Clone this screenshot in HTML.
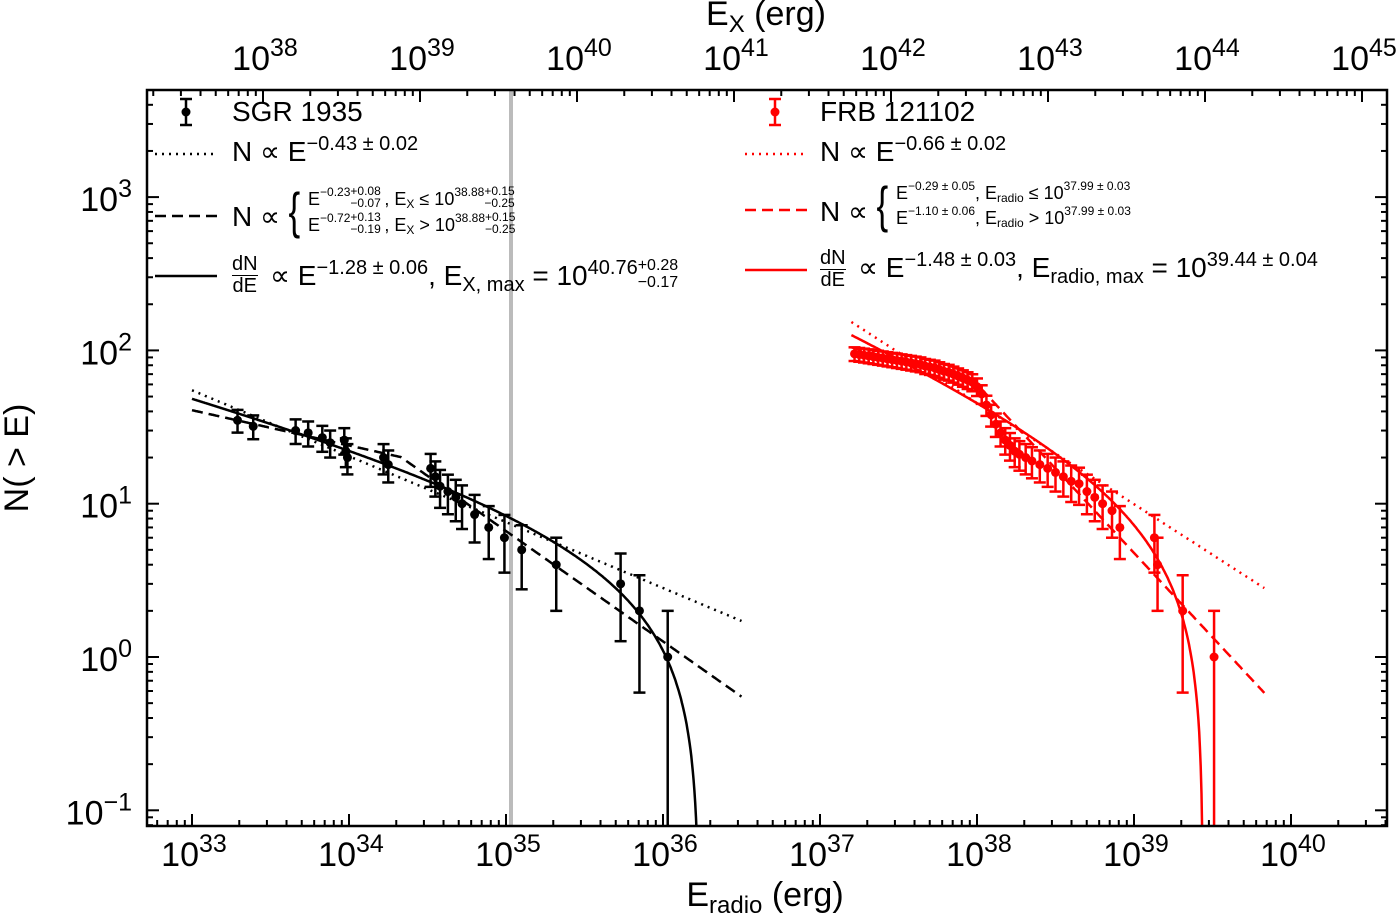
<!DOCTYPE html>
<html><head><meta charset="utf-8"><style>
body{margin:0;background:#fff;width:1400px;height:920px;overflow:hidden;font-family:"Liberation Sans",sans-serif}
#wrap{position:relative;width:1400px;height:920px;overflow:hidden}
svg{position:absolute;left:0;top:0;overflow:hidden}
.lg{position:absolute;font-size:28px;line-height:1;white-space:nowrap}
.lg sup{font-size:20px;position:relative;top:-4px;vertical-align:top;line-height:1}
.lg sub{font-size:20px;position:relative;top:6px;vertical-align:baseline;line-height:1}
.sm{font-size:18px}
.sm sup,.sm sub{font-size:12px}
.sm sup{top:-4px}
.sm sub{top:3px}
.ss{display:inline-block;position:relative;width:34px;height:18px;vertical-align:top;font-size:12px}
.ss span{position:absolute;left:0;line-height:1}
.ss .u{top:-5px}.ss .d{top:7px}
.big .ss{width:46px;font-size:16px}
.big .ss .u{top:-4px}.big .ss .d{top:13px}
.frac{position:absolute;font-size:20px;line-height:1;text-align:center}
.frac .n{border-bottom:1.5px solid currentColor;padding-bottom:1px}
.brace{position:absolute;font-size:50px;line-height:1;font-weight:100;transform:scaleX(0.7)}
.red{color:#f00}
</style></head><body><div id="wrap">
<svg id="svg" width="1400" height="920"></svg>

<div class="lg" style="left:232px;top:98px">SGR 1935</div>
<div class="lg" style="left:232px;top:138px">N ∝ E<sup>−0.43 ± 0.02</sup></div>
<div class="lg" style="left:232px;top:203px">N ∝</div>
<div class="brace" style="left:286px;top:186px">{</div>
<div class="lg sm" style="left:308px;top:190px">E<sup>−0.23</sup><span class="ss"><span class="u">+0.08</span><span class="d">−0.07</span></span>, E<sub>X</sub> ≤ 10<sup>38.88</sup><span class="ss"><span class="u">+0.15</span><span class="d">−0.25</span></span></div>
<div class="lg sm" style="left:308px;top:216px">E<sup>−0.72</sup><span class="ss"><span class="u">+0.13</span><span class="d">−0.19</span></span>, E<sub>X</sub> &gt; 10<sup>38.88</sup><span class="ss"><span class="u">+0.15</span><span class="d">−0.25</span></span></div>
<div class="frac" style="left:232px;top:254px"><div class="n">dN</div><div>dE</div></div>
<div class="lg big" style="left:270px;top:262px">∝ E<sup>−1.28 ± 0.06</sup>, E<sub>X, max</sub> = 10<sup>40.76</sup><span class="ss"><span class="u">+0.28</span><span class="d">−0.17</span></span></div>

<div class="lg" style="left:820px;top:98px">FRB 121102</div>
<div class="lg" style="left:820px;top:138px">N ∝ E<sup>−0.66 ± 0.02</sup></div>
<div class="lg" style="left:820px;top:198px">N ∝</div>
<div class="brace" style="left:874px;top:180px">{</div>
<div class="lg sm" style="left:896px;top:184px">E<sup>−0.29 ± 0.05</sup>, E<sub>radio</sub> ≤ 10<sup>37.99 ± 0.03</sup></div>
<div class="lg sm" style="left:896px;top:209px">E<sup>−1.10 ± 0.06</sup>, E<sub>radio</sub> &gt; 10<sup>37.99 ± 0.03</sup></div>
<div class="frac" style="left:820px;top:248px"><div class="n">dN</div><div>dE</div></div>
<div class="lg" style="left:858px;top:254px">∝ E<sup>−1.48 ± 0.03</sup>, E<sub>radio, max</sub> = 10<sup>39.44 ± 0.04</sup></div>

<script>
const sgrLogE=[33.29,33.39,33.66,33.74,33.83,33.88,33.97,33.98,33.99,34.22,34.25,34.52,34.55,34.58,34.63,34.68,34.72,34.80,34.89,34.99,35.10,35.32,35.73,35.85,36.03];
const sgrN=[35,32,30,29,27,25,26,22,20,20,18,17,15,13,12,11,10,8.5,7,6,5,4,3,2,1];
const frbLogE=[37.22,37.25,37.28,37.31,37.34,37.37,37.40,37.43,37.46,37.49,37.52,37.55,37.58,37.61,37.64,37.67,37.70,37.73,37.76,37.79,37.82,37.85,37.88,37.91,37.94,37.97,38.00,38.03,38.06,38.09,38.12,38.15,38.18,38.21,38.24,38.27,38.31,38.35,38.40,38.45,38.50,38.55,38.60,38.65,38.70,38.75,38.80,38.86,38.91,39.13,39.15,39.31,39.51];
const frbN=[95,94,93,92,91,90,89,88,87,86,85,84,83,82,81,79,78,77,75,73,72,70,68,66,64,62,58,52,44,38,33,29,26,24,22,21,20,19,18,17,16,15,14,13.5,12,11,10,9,7,6,4,2,1];
const xTicks=[33,34,35,36,37,38,39,40];
const topTicks=[38,39,40,41,42,43,44,45];
const yTicks=[-1,0,1,2,3];

const L=147,R=1387,T=90,B=826;
const X=l=>192+(l-33)*157;
const XT=l=>263+(l-38)*157;
const Y=n=>657-Math.log10(n)*153.3;
const YL=l=>657-l*153.3;
const svg=document.getElementById('svg');
const NS='http://www.w3.org/2000/svg';
function mk(tag,at,name,parent){const e=document.createElementNS(NS,tag);for(const k in at)e.setAttribute(k,at[k]);


(parent||svg).appendChild(e);return e;}
const clip=mk('clipPath',{id:'c'},'clip');mk('rect',{x:L,y:T,width:R-L,height:B-T},'clip-rect',clip);
const g=mk('g',{'clip-path':'url(#c)'},'plot-area');
mk('line',{x1:511,y1:T,x2:511,y2:B,stroke:'#bbb','stroke-width':4},'gray-vertical-line',g);
function path(fn,l0,l1,attr,name){let d='';for(let l=l0;l<=l1+1e-9;l+=0.005){const v=fn(l);if(!(v>0))break;d+=(d?'L':'M')+X(l).toFixed(1)+','+Y(v).toFixed(1);}
mk('path',Object.assign({d:d,fill:'none','stroke-width':2.5},attr),name,g);}
path(l=>Math.pow(10,1.74-0.43*(l-33)),33,36.5,{stroke:'#000','stroke-dasharray':'2,5'},'sgr-powerlaw-fit');
path(l=>Math.pow(10,l<34.33?1.61-0.23*(l-33):1.304-0.72*(l-34.33)),33,36.5,{stroke:'#000','stroke-dasharray':'11,6'},'sgr-broken-fit');
path(l=>6.88*(Math.pow(10,-0.28*(l-36.23))-1)+1e-4,33,36.23,{stroke:'#000'},'sgr-cutoff-fit');
path(l=>Math.pow(10,2.185-0.66*(l-37.2)),37.2,39.83,{stroke:'#f00','stroke-dasharray':'2,5'},'frb-powerlaw-fit');
path(l=>Math.pow(10,l<37.99?2.02-0.29*(l-37.2):1.79-1.10*(l-37.99)),37.2,39.83,{stroke:'#f00','stroke-dasharray':'11,6'},'frb-broken-fit');
path(l=>11.56*(Math.pow(10,-0.48*(l-39.44))-1)+1e-4,37.2,39.44,{stroke:'#f00'},'frb-cutoff-fit');
function pts(le,ns,col,name){le.forEach((l,i)=>{const n=ns[i],e=Math.sqrt(n),x=X(l);
const lo=n-e>0.01?Y(n-e):B+5,hi=Y(n+e);
mk('line',{x1:x,y1:hi,x2:x,y2:lo,stroke:col,'stroke-width':2.5},name+'-errorbar',g);
mk('line',{x1:x-6,y1:hi,x2:x+6,y2:hi,stroke:col,'stroke-width':2.5},name+'-cap',g);
if(n-e>0.01)mk('line',{x1:x-6,y1:lo,x2:x+6,y2:lo,stroke:col,'stroke-width':2.5},name+'-cap',g);
mk('circle',{cx:x,cy:Y(n),r:4.5,fill:col},name+'-point',g);});}
pts(sgrLogE,sgrN,'#000','sgr');
pts(frbLogE,frbN,'#f00','frb');
function sym(x,y,c,n){mk('line',{x1:x,y1:y-13,x2:x,y2:y+13,stroke:c,'stroke-width':2.5},n);mk('line',{x1:x-6,y1:y-13,x2:x+6,y2:y-13,stroke:c,'stroke-width':2.5},n);mk('line',{x1:x-6,y1:y+13,x2:x+6,y2:y+13,stroke:c,'stroke-width':2.5},n);mk('circle',{cx:x,cy:y,r:4.5,fill:c},n);}
sym(186,112,'#000','legend-sgr-marker');sym(775,112,'#f00','legend-frb-marker');
[[155,'#000'],[745,'#f00']].forEach(([x0,c])=>{
mk('line',{x1:x0,y1:154,x2:x0+62,y2:154,stroke:c,'stroke-width':2.5,'stroke-dasharray':'2,5'},'legend-dotted');
mk('line',{x1:x0,y1:x0<500?216:210,x2:x0+62,y2:x0<500?216:210,stroke:c,'stroke-width':2.5,'stroke-dasharray':'11,6'},'legend-dashed');
mk('line',{x1:x0,y1:x0<500?276:270,x2:x0+62,y2:x0<500?276:270,stroke:c,'stroke-width':2.5},'legend-solid');});
mk('rect',{x:L,y:T,width:R-L,height:B-T,fill:'none',stroke:'#000','stroke-width':2.5},'plot-frame');
function txt(x,y,base,exp,name,anchor){const t=mk('text',{x:x,y:y,'font-size':34,'text-anchor':anchor||'middle','font-family':'Liberation Sans'},name);
const a=document.createElementNS(NS,'tspan');a.textContent=base;t.appendChild(a);
const b=document.createElementNS(NS,'tspan');b.setAttribute('font-size',25);b.setAttribute('dy',-14);b.textContent=exp;t.appendChild(b);}
for(let d=32;d<=41;d++)for(let m=1;m<10;m++){const l=d+Math.log10(m);
const xb=X(l);if(xb>L&&xb<R){const len=m==1?12:6;mk('line',{x1:xb,y1:B,x2:xb,y2:B-len,stroke:'#000','stroke-width':2},'x-tick');}
const xt=XT(l+5);if(xt>L&&xt<R){const len=m==1?12:6;mk('line',{x1:xt,y1:T,x2:xt,y2:T+len,stroke:'#000','stroke-width':2},'top-tick');}}
for(let d=-2;d<=4;d++)for(let m=1;m<10;m++){const y=YL(d+Math.log10(m));if(y>T&&y<B){const len=m==1?12:6;
mk('line',{x1:L,y1:y,x2:L+len,y2:y,stroke:'#000','stroke-width':2},'y-tick');mk('line',{x1:R,y1:y,x2:R-len,y2:y,stroke:'#000','stroke-width':2},'y-tick-right');}}
xTicks.forEach(l=>txt(X(l)+2,866,'10',String(l),'x-tick-label'));
topTicks.forEach(l=>txt(XT(l)+2,70,'10',String(l),'top-tick-label'));
yTicks.forEach(l=>txt(132,YL(l)+14,'10',l<0?'−'+(-l):String(l),'y-tick-label','end'));
const xl=mk('text',{x:765,y:906,'font-size':34,'text-anchor':'middle','font-family':'Liberation Sans'},'x-axis-title');
xl.innerHTML='E<tspan font-size="24" dy="7">radio</tspan><tspan dy="-7"> (erg)</tspan>';
const tl=mk('text',{x:766,y:25,'font-size':34,'text-anchor':'middle','font-family':'Liberation Sans'},'top-axis-title');
tl.innerHTML='E<tspan font-size="24" dy="7">X</tspan><tspan dy="-7"> (erg)</tspan>';
mk('text',{x:28,y:458,'font-size':34,'text-anchor':'middle','font-family':'Liberation Sans',transform:'rotate(-90 28 458)'},'y-axis-title').textContent='N( > E)';
</script></div></body></html>
